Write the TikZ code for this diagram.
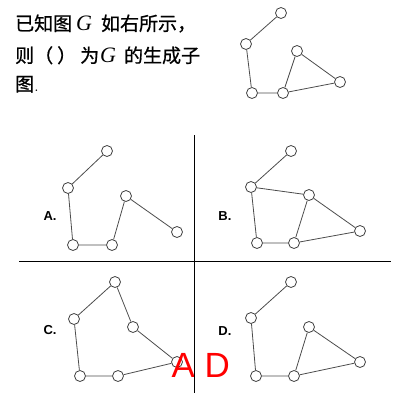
\documentclass[tikz,border=0pt]{standalone}
\usepackage{fontspec}
\usepackage{tikz}
\newfontfamily\cjk[FakeBold=0.8]{Noto Sans CJK SC}
\newfontfamily\tms{Liberation Serif}
\newfontfamily\arl{Liberation Sans}
\tikzset{%
    vtx/.style={inner sep=0pt,circle,draw,fill=white}
}

\begin{document}
\begin{tikzpicture}[x=1pt,y=-1pt,
        vtx/.style={circle,draw=black!75,fill=white,line width=0.8pt,minimum size=11pt,inner sep=0pt},
        edge/.style={line width=0.8pt,black!70},
        lbl/.style={inner sep=0pt,font=\arl\bfseries\fontsize{13}{13}\selectfont},
        txt/.style={anchor=base west,inner sep=0pt,font=\fontsize{19}{19}\selectfont}
        ]
        \useasboundingbox (0,0) rectangle (400,400);

        % question text
        \node[txt] (t1) at (15,30.5) {{\cjk 已知图}\hspace{4pt}{\tms\itshape\fontsize{22}{22}\selectfont G}\hspace{9pt}{\cjk 如右所示，}};
        \node[txt] (t2) at (15,62.5) {{\cjk 则（}\hspace{4pt}{\cjk ）}\hspace{4pt}{\cjk 为}\hspace{1pt}{\tms\itshape\fontsize{22}{22}\selectfont G}\hspace{8pt}{\cjk 的生成子}};
        \node[txt] (t3) at (15,91) {{\cjk 图}.};

        % graph G
        \node[vtx] (1g) at (281,13){};
        \node[vtx] (2g) at (246,44){};
        \node[vtx] (3g) at (297,51){};
        \node[vtx] (4g) at (340,82){};
        \node[vtx] (5g) at (252,93){};
        \node[vtx] (6g) at (283,93){};
        \draw[edge] (1g) -- (2g) -- (5g) -- (6g) -- (3g) -- (4g) -- (6g);

        % A
        \node[lbl] (la) at (50,216) {A.};
        \node[vtx] (1a) at (107,151){};
        \node[vtx] (2a) at (68,188){};
        \node[vtx] (3a) at (126,196){};
        \node[vtx] (4a) at (177,232){};
        \node[vtx] (5a) at (73,245){};
        \node[vtx] (6a) at (112,245){};
        \draw[edge] (1a) -- (2a) -- (5a) -- (6a) -- (3a) -- (4a);

        % B
        \node[lbl] (lb) at (225,216) {B.};
        \node[vtx] (1b) at (291,151){};
        \node[vtx] (2b) at (251,187){};
        \node[vtx] (3b) at (309,195){};
        \node[vtx] (4b) at (360,231){};
        \node[vtx] (5b) at (257,243){};
        \node[vtx] (6b) at (294,243){};
        \draw[edge] (1b) -- (2b) -- (5b) -- (6b) -- (3b) -- (4b) -- (6b);
        \draw[edge] (2b) -- (3b);

        % C
        \node[lbl] (lc) at (50,330) {C.};
        \node[vtx] (1c) at (115,282){};
        \node[vtx] (2c) at (74,319){};
        \node[vtx] (3c) at (133,327){};
        \node[vtx] (4c) at (177,362){};
        \node[vtx] (5c) at (80,376){};
        \node[vtx] (6c) at (118,376){};
        \draw[edge] (2c) -- (1c) -- (3c) -- (4c) -- (6c) -- (5c) -- (2c);

        % D
        \node[lbl] (ld) at (225,331) {D.};
        \node[vtx] (1d) at (291,282){};
        \node[vtx] (2d) at (251,318){};
        \node[vtx] (3d) at (309,327){};
        \node[vtx] (4d) at (360,362){};
        \node[vtx] (5d) at (256,376){};
        \node[vtx] (6d) at (294,376){};
        \draw[edge] (1d) -- (2d) -- (5d) -- (6d) -- (3d) -- (4d) -- (6d);

        % answer
        \node[anchor=base west,inner sep=0pt,text=red,font=\arl\fontsize{35}{35}\selectfont] (ans) at (171.5,377) {A D};

        % dividers
        \coordinate (vt) at (194,135);
        \coordinate (vb) at (194,393);
        \coordinate (hl) at (19,261);
        \coordinate (hr) at (391,261);
        \draw[line width=1pt] (vt) -- (vb);
        \draw[line width=1pt] (hl) -- (hr);
    \end{tikzpicture}
\end{document}
